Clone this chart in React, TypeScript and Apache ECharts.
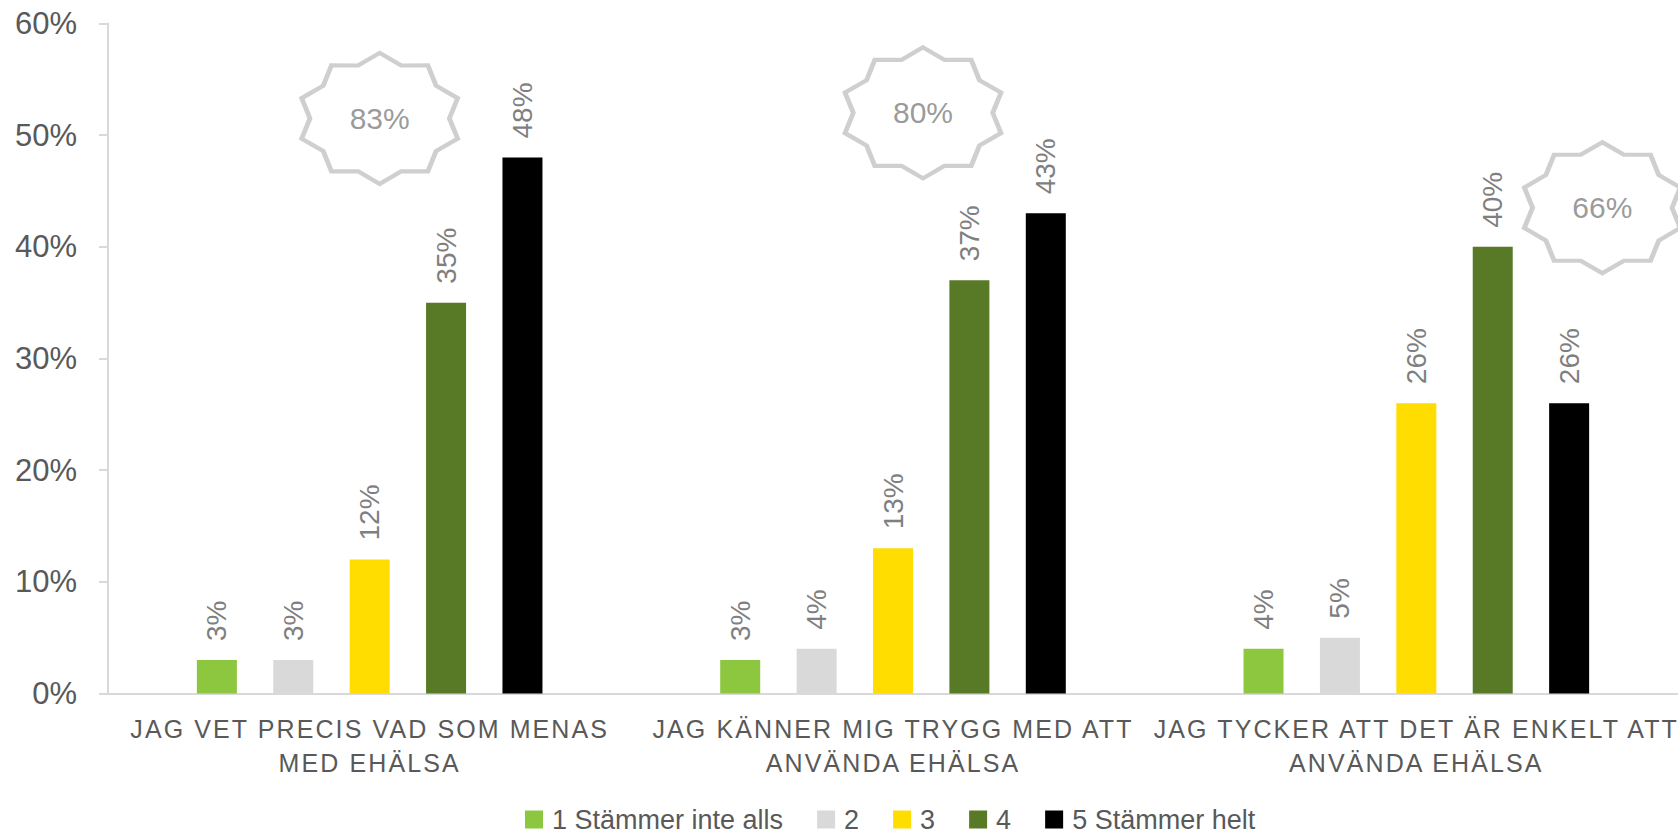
import React, { useEffect, useRef } from 'react';
import * as echarts from 'echarts';

const categories = [
  'JAG VET PRECIS VAD SOM MENAS\nMED EHÄLSA',
  'JAG KÄNNER MIG TRYGG MED ATT\nANVÄNDA EHÄLSA',
  'JAG TYCKER ATT DET ÄR ENKELT ATT\nANVÄNDA EHÄLSA',
];
const seriesNames = ['1 Stämmer inte alls', '2', '3', '4', '5 Stämmer helt'];
const s1 = [3, 3, 4];
const s2 = [3, 4, 5];
const s3 = [12, 13, 26];
const s4 = [35, 37, 40];
const s5 = [48, 43, 26];
const totals = [83, 80, 66];
const badgeY = [51.5, 52, 43.5];
const badgeOffsetX = [10, 30, 186];
const colors = ['#8DC63F', '#D9D9D9', '#FFDD00', '#587A27', '#000000'];
const yTicks = { min: 0, max: 60, interval: 10 };

function starPath(): string {
  const pts: string[] = [];
  for (let k = 0; k < 20; k++) {
    const a = (k * 18 * Math.PI) / 180;
    const r = k % 2 === 0 ? 100 : 85;
    const x = r * Math.sin(a);
    const y = -r * Math.cos(a);
    pts.push((k === 0 ? 'M' : 'L') + x.toFixed(2) + ' ' + y.toFixed(2));
  }
  return 'path://' + pts.join(' ') + ' Z';
}

export default function App() {
  const ref = useRef<HTMLDivElement>(null);
  useEffect(() => {
    if (!ref.current) return;
    const el = ref.current;
    const chart = echarts.init(el, undefined, { renderer: 'svg' });
    const values = [s1, s2, s3, s4, s5];
    const font = "'Liberation Sans', Arial, sans-serif";
    const barSeries = values.map((v, i) => ({
      name: seriesNames[i],
      type: 'bar',
      data: v,
      barWidth: 40,
      barGap: '91%',
      itemStyle: { color: colors[i] },
      label: {
        show: true,
        position: 'top',
        rotate: 90,
        align: 'left',
        verticalAlign: 'middle',
        distance: 19,
        formatter: '{c}%',
        fontFamily: font,
        fontSize: 28,
        color: '#7F7F7F',
      },
      emphasis: { disabled: true },
    }));
    const star = starPath();
    const badgeSeries = {
      name: 'badges',
      type: 'scatter',
      clip: false,
      z: 5,
      symbol: star,
      symbolSize: [156, 131],
      itemStyle: { color: '#FFFFFF', borderColor: '#C3C3C3', borderWidth: 4.5 },
      label: {
        show: true,
        position: 'inside',
        fontFamily: font,
        fontSize: 30,
        color: '#7F7F7F',
        formatter: (p: any) => totals[p.dataIndex] + '%',
      },
      emphasis: { disabled: true },
      data: badgeY.map((y, i) => ({
        value: [i, y],
        symbolOffset: [badgeOffsetX[i], 0],
      })),
    };
    chart.setOption({
      animation: false,
      textStyle: { fontFamily: font },
      grid: { left: 108, top: 23.5, width: 1572, height: 670, containLabel: false },
      legend: {
        data: seriesNames,
        left: 525,
        top: 806,
        padding: 0,
        icon: 'rect',
        itemWidth: 18,
        itemHeight: 18,
        itemGap: 34,
        textStyle: { fontFamily: font, fontSize: 27, color: '#595959', lineHeight: 24, padding: [0, 0, 0, 4] },
      },
      xAxis: {
        type: 'category',
        data: categories,
        axisLine: { show: true, lineStyle: { color: '#D9D9D9', width: 2 } },
        axisTick: { show: false },
        axisLabel: {
          interval: 0,
          margin: 18.5,
          fontFamily: font,
          fontSize: 25,
          lineHeight: 34,
          color: '#595959',
          align: 'center',
        },
      },
      yAxis: {
        type: 'value',
        min: yTicks.min,
        max: yTicks.max,
        interval: yTicks.interval,
        axisLine: { show: true, lineStyle: { color: '#D9D9D9', width: 2 } },
        axisTick: { show: true, length: 9, lineStyle: { color: '#D9D9D9', width: 2 } },
        splitLine: { show: false },
        axisLabel: {
          formatter: '{value}%',
          margin: 31,
          fontFamily: font,
          fontSize: 31,
          color: '#595959',
        },
      },
      series: [...barSeries, badgeSeries],
    });
    const catLines = new Set<string>();
    categories.forEach((c) => c.split('\n').forEach((l) => catLines.add(l)));
    const spaceLabels = () => {
      el.querySelectorAll('text').forEach((t) => {
        const s = (t.textContent || '').trim();
        if (catLines.has(s)) t.setAttribute('letter-spacing', '2.1');
      });
    };
    chart.on('finished', spaceLabels);
    spaceLabels();
    const raf = requestAnimationFrame(spaceLabels);
    const tm = setTimeout(spaceLabels, 50);
    return () => {
      cancelAnimationFrame(raf);
      clearTimeout(tm);
      chart.dispose();
    };
  }, []);
  return (
    <div
      ref={ref}
      style={{ position: 'absolute', left: 0, top: 0, width: 1678, height: 833 }}
    />
  );
}
